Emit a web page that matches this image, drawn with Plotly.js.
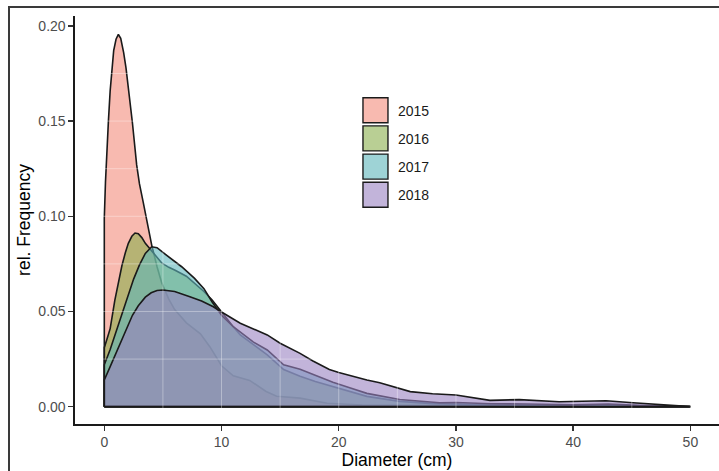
<!DOCTYPE html>
<html>
<head>
<meta charset="utf-8">
<script src="https://cdn.plot.ly/plotly-3.0.1.min.js"></script>
<style>
  html, body { margin: 0; padding: 0; background: #ffffff; overflow: hidden; }
  #chart { position: absolute; left: 0; top: 0; width: 719px; height: 471px; }
  #frame { position: absolute; left: 8px; top: 6px; width: 760px; height: 520px;
           border-left: 2px solid #3a3a3a; border-top: 2px solid #3a3a3a; pointer-events: none; }
</style>
</head>
<body>
<div id="chart"></div>
<div id="frame"></div>
<script>
// ---- data (kernel density estimates, rel. frequency) ----
var years = ["2015", "2016", "2017", "2018"];

var x2015 = [0, 0.1, 0.2, 0.35, 0.5, 0.65, 0.8, 1.0, 1.2, 1.4, 1.65, 1.85, 2.05, 2.4, 2.76, 3.0, 3.33, 3.65, 4.04, 4.5, 4.9, 5.5, 6.0, 7.0, 7.7, 8.2, 9.0, 10.0, 11.0, 12.4, 13.8, 14.7, 16.7, 18.0, 19.0, 22.0, 26.0, 30.0, 35.0, 40.0, 45.0, 50.0];
var y2015 = [0.099, 0.118, 0.133, 0.150, 0.166, 0.178, 0.187, 0.193, 0.1955, 0.1935, 0.186, 0.178, 0.168, 0.149, 0.127, 0.117, 0.107, 0.097, 0.085, 0.0735, 0.065, 0.0565, 0.051, 0.044, 0.0405, 0.0383, 0.0315, 0.0215, 0.0162, 0.0138, 0.008, 0.0055, 0.0045, 0.003, 0.0018, 0.0009, 0.0006, 0.0004, 0.0003, 0.0002, 0.0001, 0];

var x2016 = [0, 0.25, 0.5, 0.9, 1.2, 1.5, 1.8, 2.05, 2.35, 2.62, 2.9, 3.2, 3.5, 4.0, 4.5, 4.9, 5.5, 6.0, 7.0, 7.7, 8.5, 9.2, 10.0, 11.0, 11.6, 12.7, 13.9, 15.3, 16.7, 18.0, 19.5, 21.0, 22.4, 25.2, 28.0, 32.0, 36.0, 40.0, 43.0, 46.0, 50.0];
var y2016 = [0.031, 0.036, 0.041, 0.056, 0.065, 0.074, 0.081, 0.0858, 0.0895, 0.0912, 0.0908, 0.0888, 0.0858, 0.0823, 0.0782, 0.0755, 0.0732, 0.0718, 0.0685, 0.0648, 0.0605, 0.056, 0.0495, 0.042, 0.0377, 0.0325, 0.0272, 0.0195, 0.016, 0.0132, 0.0105, 0.0078, 0.0054, 0.0028, 0.0016, 0.001, 0.0008, 0.0006, 0.0008, 0.0004, 0];

var x2017 = [0, 0.5, 1.05, 1.5, 2.0, 2.5, 3.0, 3.5, 4.04, 4.5, 5.0, 5.5, 6.6, 7.7, 8.5, 9.2, 10.0, 11.0, 11.6, 12.7, 13.9, 15.3, 16.7, 18.0, 19.5, 21.0, 22.4, 25.2, 28.6, 30.0, 33.0, 36.0, 40.0, 43.0, 46.0, 50.0];
var y2017 = [0.022, 0.030, 0.040, 0.049, 0.0585, 0.067, 0.0745, 0.0805, 0.084, 0.0835, 0.081, 0.0788, 0.0735, 0.0674, 0.062, 0.055, 0.048, 0.042, 0.0392, 0.034, 0.0298, 0.022, 0.0197, 0.0165, 0.0128, 0.0098, 0.007, 0.0038, 0.0021, 0.0022, 0.0015, 0.0014, 0.001, 0.0014, 0.0006, 0];

var x2018 = [0, 0.5, 1.0, 1.5, 1.9, 2.4, 2.9, 3.5, 4.0, 4.5, 5.0, 6.0, 7.3, 8.3, 9.3, 10.0, 11.6, 13.9, 15.0, 16.7, 17.8, 19.2, 20.0, 22.4, 23.5, 26.1, 28.0, 30.0, 32.9, 35.4, 38.8, 42.8, 45.1, 47.7, 50.0];
var y2018 = [0.014, 0.021, 0.028, 0.035, 0.0405, 0.048, 0.053, 0.0575, 0.0598, 0.061, 0.0613, 0.0605, 0.0578, 0.0555, 0.0525, 0.0497, 0.0438, 0.0377, 0.0333, 0.028, 0.024, 0.0195, 0.018, 0.014, 0.0126, 0.0079, 0.0068, 0.0061, 0.0033, 0.0037, 0.0026, 0.0031, 0.0021, 0.0008, 0];

var xTicks = [0, 10, 20, 30, 40, 50];
var yTicks = [0, 0.05, 0.10, 0.15, 0.20];
var gridX = [5, 10, 15, 20, 25, 30, 35, 40, 45, 50];
var gridY = [0.025, 0.05, 0.075, 0.10, 0.125, 0.15, 0.175, 0.20];

// ---- styles ----
var fills = ["rgba(243,140,123,0.6)", "rgba(138,175,77,0.6)", "rgba(93,182,187,0.6)", "rgba(153,130,193,0.6)"];
var xs = [x2015, x2016, x2017, x2018];
var ys = [y2015, y2016, y2017, y2018];

// closed polygon (baseline -> curve -> baseline), like a filled density outline
var traces = years.map(function (yr, i) {
  var px = [xs[i][0]].concat(xs[i], [xs[i][xs[i].length - 1], xs[i][0]]);
  var py = [0].concat(ys[i], [0, 0]);
  return {
    type: "scatter", mode: "lines", name: yr, legendgroup: yr,
    x: px, y: py, fill: "toself", fillcolor: fills[i],
    line: { color: "#1a1a1a", width: 1.6 },
    hoverinfo: "skip"
  };
});

var shapes = [];
gridX.forEach(function (v) {
  shapes.push({ type: "line", xref: "x", yref: "paper", x0: v, x1: v, y0: 0, y1: 1,
                layer: "above", line: { color: "rgba(255,255,255,0.35)", width: 1 } });
});
gridY.forEach(function (v) {
  shapes.push({ type: "line", xref: "paper", yref: "y", x0: 0, x1: 1, y0: v, y1: v,
                layer: "above", line: { color: "rgba(255,255,255,0.35)", width: 1 } });
});

var font = "Liberation Sans, Arial, Helvetica, sans-serif";
var layout = {
  width: 719, height: 471,
  margin: { l: 75, r: 0, t: 16, b: 47 },
  paper_bgcolor: "rgba(0,0,0,0)", plot_bgcolor: "#ffffff",
  font: { family: font, size: 14, color: "#4d4d4d" },
  showlegend: true,
  legend: { x: 0.4394, y: 0.8074, xanchor: "left", yanchor: "top", bgcolor: "rgba(0,0,0,0)",
            font: { family: font, size: 14, color: "#1a1a1a" }, tracegroupgap: 7, itemwidth: 30 },
  xaxis: {
    range: [-2.5, 52.44], tickmode: "array", tickvals: xTicks, ticktext: xTicks.map(String),
    showgrid: false, zeroline: false, showline: true, linecolor: "#1a1a1a", linewidth: 1.6,
    ticks: "outside", ticklen: 5, tickwidth: 1.4, tickcolor: "#333333",
    tickfont: { family: font, size: 14, color: "#4d4d4d" },
    title: { text: "Diameter (cm)", font: { family: font, size: 17.5, color: "#000000" }, standoff: 0 }
  },
  yaxis: {
    range: [-0.0091, 0.2052], tickmode: "array", tickvals: yTicks, ticktext: yTicks.map(function (v) { return v.toFixed(2); }),
    showgrid: false, zeroline: false, showline: true, linecolor: "#1a1a1a", linewidth: 1.6,
    ticks: "outside", ticklen: 5, tickwidth: 1.4, tickcolor: "#333333",
    tickfont: { family: font, size: 14, color: "#4d4d4d" },
    title: { text: "rel. Frequency", font: { family: font, size: 17.5, color: "#000000" }, standoff: 3 }
  },
  shapes: shapes
};

function squareKeys() {
  document.querySelectorAll("#chart .legend .traces").forEach(function (tr) {
    var d = "M5,-12.5h25v25h-25z";
    var f = tr.querySelector(".legendfill path");
    var l = tr.querySelector(".legendlines path");
    if (f) f.setAttribute("d", d);
    if (l) { l.setAttribute("d", d); l.style.fill = "none"; l.style.strokeWidth = "1.4px"; }
  });
}

Plotly.newPlot("chart", traces, layout, { staticPlot: true, displayModeBar: false }).then(squareKeys);
</script>
</body>
</html>
